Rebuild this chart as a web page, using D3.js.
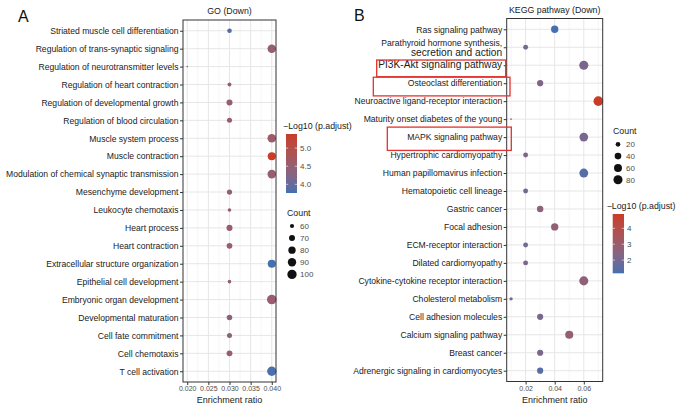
<!DOCTYPE html>
<html>
<head>
<meta charset="utf-8">
<script src="https://cdn.jsdelivr.net/npm/d3@7"></script>
<style>
body { margin: 0; background: #fff; }
svg { font-family: "Liberation Sans", Arial, sans-serif; }
</style>
</head>
<body>
<svg id="chart" width="677" height="409"></svg>
<script>
// GO (Down) panel data, top to bottom
var goTerms = [
    "Striated muscle cell differentiation",
    "Regulation of trans-synaptic signaling",
    "Regulation of neurotransmitter levels",
    "Regulation of heart contraction",
    "Regulation of developmental growth",
    "Regulation of blood circulation",
    "Muscle system process",
    "Muscle contraction",
    "Modulation of chemical synaptic transmission",
    "Mesenchyme development",
    "Leukocyte chemotaxis",
    "Heart process",
    "Heart contraction",
    "Extracellular structure organization",
    "Epithelial cell development",
    "Embryonic organ development",
    "Developmental maturation",
    "Cell fate commitment",
    "Cell chemotaxis",
    "T cell activation"
]
var goRatio = [0.030, 0.040, 0.020, 0.030, 0.030, 0.030, 0.040, 0.040, 0.040, 0.030,
    0.030, 0.030, 0.030, 0.040, 0.030, 0.040, 0.030, 0.030, 0.030, 0.040]
var goCount = [62, 92, 55, 59, 70, 64, 92, 87, 92, 65, 58, 70, 68, 87, 58, 104, 67, 64, 69, 100]
var goPadj = [3.85, 4.5, 4.45, 4.55, 4.5, 4.55, 4.6, 5.39, 4.5, 4.45, 4.5, 4.55, 4.55, 3.76, 4.5, 4.55, 4.4, 4.35, 4.5, 3.8]
var goTicks = [0.020, 0.025, 0.030, 0.035, 0.040]
var goCountBreaks = [60, 70, 80, 90, 100]
var goColorBreaks = [4.0, 4.5, 5.0]

// KEGG pathway (Down) panel data, top to bottom
var keggTerms = [
    "Ras signaling pathway",
    "Parathyroid hormone synthesis,\nsecretion and action",
    "PI3K-Akt signaling pathway",
    "Osteoclast differentiation",
    "Neuroactive ligand-receptor interaction",
    "Maturity onset diabetes of the young",
    "MAPK signaling pathway",
    "Hypertrophic cardiomyopathy",
    "Human papillomavirus infection",
    "Hematopoietic cell lineage",
    "Gastric cancer",
    "Focal adhesion",
    "ECM-receptor interaction",
    "Dilated cardiomyopathy",
    "Cytokine-cytokine receptor interaction",
    "Cholesterol metabolism",
    "Cell adhesion molecules",
    "Calcium signaling pathway",
    "Breast cancer",
    "Adrenergic signaling in cardiomyocytes"
]
var keggRatio = [0.04, 0.02, 0.06, 0.03, 0.07, 0.01, 0.06, 0.02, 0.06, 0.02,
    0.03, 0.04, 0.02, 0.02, 0.06, 0.01, 0.03, 0.05, 0.03, 0.03]
var keggCount = [50, 22, 80, 35, 90, 8, 72, 22, 76, 22, 38, 50, 22, 22, 80, 12, 35, 62, 35, 35]
var keggPadj = [1.17, 2.0, 2.1, 2.2, 4.9, 2.0, 2.1, 2.2, 1.4, 1.9, 2.6, 2.8, 2.0, 2.1, 2.7, 2.0, 2.1, 2.8, 2.1, 1.4]
var keggTicks = [0.02, 0.04, 0.06]
var keggCountBreaks = [20, 40, 60, 80]
var keggColorBreaks = [2, 3, 4]
var keggBigText = ["secretion and action", "PI3K-Akt signaling pathway"]
var keggBoxed = ["PI3K-Akt signaling pathway", "Osteoclast differentiation", "MAPK signaling pathway"]

var lowColor = "#4470b0"
var highColor = "#c83c28"

var svg = d3.select("#chart")

function makeSize(counts) {
    var t = d3.scaleLinear().domain(d3.extent(counts)).range([0, 1]).clamp(true)
    return function (c) { return 0.8 * (1 + 5 * Math.sqrt(t(c))) }
}

function drawPanel(p) {
    var data = p.terms.map(function (t, i) {
        return { term: t, ratio: p.ratio[i], count: p.count[i], padj: p.padj[i] }
    })

    var ext = d3.extent(p.ratio)
    var pad = (ext[1] - ext[0]) * 0.05
    var x = d3.scaleLinear().domain([ext[0] - pad, ext[1] + pad]).range([p.x0, p.x1])
    var y = d3.scalePoint().domain(p.terms).range([p.y0, p.y1]).padding(0.6)
    var size = makeSize(p.count)
    var color = d3.scaleLinear().domain(d3.extent(p.padj))
        .range([lowColor, highColor]).interpolate(d3.interpolateLab)

    var g = svg.append("g")

    // minor grid: half way between breaks
    var step = p.ticks[1] - p.ticks[0]
    var minor = [p.ticks[0] - step / 2].concat(p.ticks.map(function (t) { return t + step / 2 }))
        .filter(function (v) { return v > x.domain()[0] && v < x.domain()[1] })

    g.selectAll(".minor").data(minor).enter().append("line")
        .attr("x1", x).attr("x2", x)
        .attr("y1", p.y0).attr("y2", p.y1)
        .style("stroke", "#f0f0f0").style("stroke-width", 0.6)

    g.selectAll(".vmajor").data(p.ticks).enter().append("line")
        .attr("x1", x).attr("x2", x)
        .attr("y1", p.y0).attr("y2", p.y1)
        .style("stroke", "#e6e6e6").style("stroke-width", 1)

    g.selectAll(".hmajor").data(p.terms).enter().append("line")
        .attr("x1", p.x0).attr("x2", p.x1)
        .attr("y1", y).attr("y2", y)
        .style("stroke", "#e6e6e6").style("stroke-width", 1)

    g.selectAll("circle.dot").data(data).enter().append("circle")
        .attr("class", "dot")
        .attr("cx", function (d) { return x(d.ratio) })
        .attr("cy", function (d) { return y(d.term) })
        .attr("r", function (d) { return size(d.count) })
        .style("fill", function (d) { return color(d.padj) })

    g.append("rect")
        .attr("x", p.x0).attr("y", p.y0)
        .attr("width", p.x1 - p.x0).attr("height", p.y1 - p.y0)
        .style("fill", "none").style("stroke", "#333").style("stroke-width", 1)

    // y axis
    var yAxis = g.append("g")
        .attr("transform", "translate(" + p.x0 + ",0)")
        .call(d3.axisLeft(y).tickSize(3).tickPadding(1.5))
    yAxis.select(".domain").remove()
    yAxis.selectAll("line").style("stroke", "#333")
    yAxis.selectAll("text")
        .style("font-size", "8.6px")
        .style("fill", "#1a1a1a")
        .each(function (d) {
            var el = d3.select(this)
            var lines = d.split("\n")
            el.text(null)
            lines.forEach(function (ln, i) {
                var big = p.big && p.big.indexOf(ln) >= 0
                el.append("tspan")
                    .attr("x", -4.5)
                    .attr("dy", lines.length > 1 ? (i == 0 ? -1.6 : 10.2) : null)
                    .style("font-size", big ? "10.2px" : null)
                    .text(ln)
            })
        })

    // x axis
    var xAxis = g.append("g")
        .attr("transform", "translate(0," + p.y1 + ")")
        .call(d3.axisBottom(x).tickValues(p.ticks).tickFormat(d3.format(p.fmt)).tickSize(3).tickPadding(1.5))
    xAxis.select(".domain").remove()
    xAxis.selectAll("line").style("stroke", "#333")
    xAxis.selectAll("text").style("font-size", "7px").style("fill", "#4d4d4d")

    g.append("text")
        .attr("x", (p.x0 + p.x1) / 2).attr("y", p.y1 + 21)
        .style("text-anchor", "middle").style("font-size", "9px").style("fill", "#1a1a1a")
        .text("Enrichment ratio")

    g.append("text")
        .attr("x", (p.x0 + p.x1) / 2).attr("y", p.y0 - 6)
        .style("text-anchor", "middle").style("font-size", "8.8px").style("fill", "#1a1a1a")
        .text(p.title)

    g.append("text")
        .attr("x", p.letterX).attr("y", p.letterY)
        .style("font-size", "16px").style("fill", "#111")
        .text(p.letter)

    // colour bar legend
    var cb = p.colorLegend
    var cy = d3.scaleLinear().domain(color.domain()).range([cb.y1, cb.y0])
    var gradId = "grad" + p.letter
    var grad = svg.append("defs").append("linearGradient")
        .attr("id", gradId).attr("x1", 0).attr("x2", 0).attr("y1", 1).attr("y2", 0)
    d3.range(0, 1.0001, 0.1).forEach(function (t) {
        var v = color.domain()[0] + t * (color.domain()[1] - color.domain()[0])
        grad.append("stop").attr("offset", t).attr("stop-color", color(v))
    })
    g.append("text")
        .attr("x", cb.titleX).attr("y", cb.y0 - 5)
        .style("font-size", "8.8px").style("fill", "#1a1a1a")
        .text("\u2212Log10 (p.adjust)")
    g.append("rect")
        .attr("x", cb.x).attr("y", cb.y0)
        .attr("width", cb.w).attr("height", cb.y1 - cb.y0)
        .style("fill", "url(#" + gradId + ")")
    g.selectAll(".cbtick").data(p.colorBreaks).enter().append("g")
        .each(function (v) {
            var t = d3.select(this)
            t.append("line").attr("x1", cb.x).attr("x2", cb.x + 2.2)
                .attr("y1", cy(v)).attr("y2", cy(v)).style("stroke", "#fff").style("stroke-width", 0.6)
            t.append("line").attr("x1", cb.x + cb.w - 2.2).attr("x2", cb.x + cb.w)
                .attr("y1", cy(v)).attr("y2", cy(v)).style("stroke", "#fff").style("stroke-width", 0.6)
            t.append("text").attr("x", cb.x + cb.w + 3).attr("y", cy(v) + 2.8)
                .style("font-size", "8px").style("fill", "#4d4d4d")
                .text(d3.format(p.cbFmt)(v))
        })

    // size legend
    var sl = p.sizeLegend
    g.append("text")
        .attr("x", sl.x - 5).attr("y", sl.y0 - 10)
        .style("font-size", "8.8px").style("fill", "#1a1a1a")
        .text("Count")
    var items = g.selectAll(".sitem").data(p.countBreaks).enter().append("g")
        .attr("transform", function (d, i) { return "translate(" + sl.x + "," + (sl.y0 + i * sl.step) + ")" })
    items.append("circle").attr("r", function (d) { return size(d) }).style("fill", "#111")
    items.append("text").attr("x", 8).attr("y", 3)
        .style("font-size", "8px").style("fill", "#4d4d4d")
        .text(function (d) { return d })

    // red highlight boxes around labels
    if (p.boxed) {
        p.boxed.forEach(function (term, i) {
            var b = p.boxes[i]
            g.append("rect")
                .attr("x", b.left).attr("y", y(term) + b.top)
                .attr("width", b.right - b.left).attr("height", b.bottom - b.top)
                .style("fill", "none").style("stroke", "#e3322f").style("stroke-width", 1.3)
        })
    }
}

drawPanel({
    terms: goTerms, ratio: goRatio, count: goCount, padj: goPadj,
    ticks: goTicks, fmt: ".3f", cbFmt: ".1f",
    countBreaks: goCountBreaks, colorBreaks: goColorBreaks,
    title: "GO (Down)", letter: "A", letterX: 18, letterY: 22,
    x0: 183, x1: 276, y0: 20, y1: 382,
    colorLegend: { titleX: 283, x: 286, w: 11, y0: 134, y1: 193 },
    sizeLegend: { x: 292, y0: 226, step: 12.1 }
})

drawPanel({
    terms: keggTerms, ratio: keggRatio, count: keggCount, padj: keggPadj,
    ticks: keggTicks, fmt: ".2f", cbFmt: "d",
    countBreaks: keggCountBreaks, colorBreaks: keggColorBreaks,
    big: keggBigText, boxed: keggBoxed,
    boxes: [
        { left: 376.7, right: 505.7, top: -5.2, bottom: 11.5 },
        { left: 373.3, right: 510, top: -6, bottom: 12.7 },
        { left: 387.3, right: 511.3, top: -10, bottom: 13.3 }
    ],
    title: "KEGG pathway (Down)", letter: "B", letterX: 354, letterY: 21,
    x0: 506.7, x1: 602.7, y0: 18.5, y1: 381.5,
    colorLegend: { titleX: 606.7, x: 612.7, w: 11.3, y0: 214, y1: 273.3 },
    sizeLegend: { x: 618, y0: 144.3, step: 11.8 }
})
</script>
</body>
</html>
